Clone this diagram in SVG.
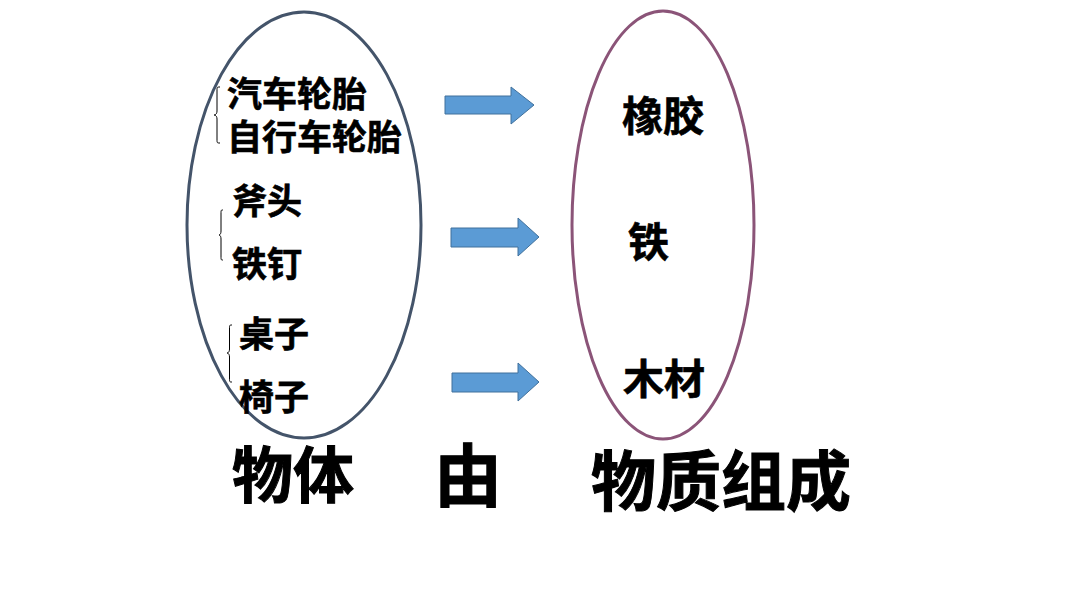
<svg xmlns="http://www.w3.org/2000/svg" width="1066" height="600" viewBox="0 0 1066 600">
<style>
.t{font-family:"Noto Sans CJK SC","Noto Sans CJK JP",sans-serif;font-weight:bold;fill:#000;stroke:#000;stroke-width:0.6}
.s{font-size:35px}
.m{font-size:41px}
.b{font-size:61px;stroke-width:1}
.brace{fill:none;stroke:#000;stroke-width:1}
.arrow{fill:#5B9BD5;stroke:#41719C;stroke-width:1}
</style>
<rect width="1066" height="600" fill="#fff"/>
<g id="objects">
<ellipse cx="304" cy="225" rx="117" ry="213" fill="none" stroke="#44546A" stroke-width="3"/>
<text class="t s" x="227" y="107">汽车轮胎</text>
<text class="t s" x="227" y="150">自行车轮胎</text>
<text class="t s" x="232" y="214">斧头</text>
<text class="t s" x="232" y="277">铁钉</text>
<text class="t s" x="239" y="347">桌子</text>
<text class="t s" x="239" y="410">椅子</text>
<path class="brace" d="M220,87 C217,87 217,87 217,91 L217,111 C217,115 214,115 214,115 C214,115 217,115 217,119 L217,139 C217,143 217,143 220,143"/>
<path class="brace" d="M223,210 C221,210 221,210 221,214 L221,231 C221,235 219,235 219,235 C219,235 221,235 221,239 L221,256 C221,260 221,260 223,260"/>
<path class="brace" d="M232,325 C229.5,325 229.5,325 229.5,329 L229.5,349 C229.5,353 227,353 227,353 C227,353 229.5,353 229.5,357 L229.5,378 C229.5,382 229.5,382 232,382"/>
</g>
<g id="materials">
<ellipse cx="663" cy="225" rx="91" ry="214" fill="none" stroke="#8B5478" stroke-width="3"/>
<text class="t m" x="622" y="131">橡胶</text>
<text class="t m" x="628" y="257">铁</text>
<text class="t m" x="623" y="394">木材</text>
</g>
<g id="connectors">
<polygon class="arrow" points="445,96 511,96 511,87 534,105 511,124 511,114 445,114"/>
<polygon class="arrow" points="451,228 518,228 518,218 539,237 518,256 518,247 451,247"/>
<polygon class="arrow" points="452,373 518,373 518,363 539,382 518,401 518,392 452,392"/>
</g>
<g id="captions">
<text class="t b" x="232" y="498">物体</text>
<text class="t" style="font-size:68px;stroke-width:1" x="434" y="501">由</text>
<text class="t" style="font-size:65px;stroke-width:1" x="591" y="505">物质组成</text>
</g>
</svg>
